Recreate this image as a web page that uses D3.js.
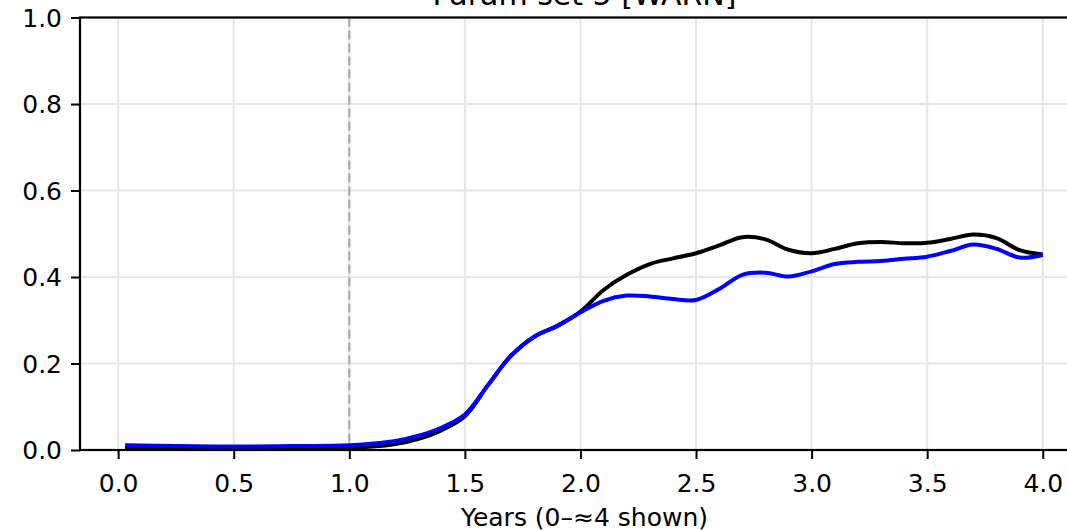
<!DOCTYPE html>
<html>
<head>
<meta charset="utf-8">
<script src="https://cdn.jsdelivr.net/npm/d3@7"></script>
<style>
  html, body { margin: 0; padding: 0; background: #fff; }
  svg { display: block; }
  text { font-family: "DejaVu Sans", sans-serif; }
</style>
</head>
<body>
<svg id="chart" width="1067" height="531"></svg>
<script>
const titleText = "Param set 5 [WARN]";
const xLabelText = "Years (0\u2013\u22484 shown)";
const years = [0.03, 0.25, 0.5, 0.75, 1.0, 1.1, 1.2, 1.3, 1.4, 1.5, 1.6, 1.7, 1.8, 1.9, 2.0, 2.1, 2.2, 2.3, 2.4, 2.5, 2.6, 2.7, 2.8, 2.9, 3.0, 3.1, 3.2, 3.3, 3.4, 3.5, 3.6, 3.7, 3.8, 3.9, 4.0];
const blackSeries = [0.004, 0.003, 0.003, 0.004, 0.006, 0.008, 0.014, 0.026, 0.046, 0.078, 0.15, 0.218, 0.262, 0.287, 0.32, 0.37, 0.405, 0.43, 0.443, 0.455, 0.473, 0.492, 0.487, 0.463, 0.455, 0.465, 0.478, 0.481, 0.478, 0.479, 0.488, 0.498, 0.49, 0.462, 0.452];
const blueSeries = [0.011, 0.009, 0.008, 0.009, 0.011, 0.015, 0.021, 0.033, 0.052, 0.082, 0.15, 0.218, 0.262, 0.287, 0.318, 0.345, 0.357, 0.355, 0.349, 0.347, 0.372, 0.405, 0.41, 0.401, 0.413, 0.43, 0.435, 0.437, 0.442, 0.447, 0.46, 0.475, 0.465, 0.445, 0.451];
const xTicks = [0.0, 0.5, 1.0, 1.5, 2.0, 2.5, 3.0, 3.5, 4.0];
const yTicks = [0.0, 0.2, 0.4, 0.6, 0.8, 1.0];
const markerYear = 1.0;

const svg = d3.select("#chart");
const pLeft = 80, pTop = 17.5, pBottom = 450, pRight = 1089;
const x = d3.scaleLinear().domain([-0.165, 4.2]).range([pLeft, pRight]);
const y = d3.scaleLinear().domain([0, 1]).range([pBottom, pTop]);

// grid
const grid = svg.append("g");
grid.selectAll("line.gx").data(xTicks).join("line")
  .attr("x1", d => x(d)).attr("x2", d => x(d)).attr("y1", pTop).attr("y2", pBottom)
  .attr("stroke", "#e6e6e6").attr("stroke-width", 2);
grid.selectAll("line.gy").data(yTicks).join("line")
  .attr("x1", pLeft).attr("x2", pRight).attr("y1", d => y(d)).attr("y2", d => y(d))
  .attr("stroke", "#e6e6e6").attr("stroke-width", 2);

// vertical dashed marker
svg.append("line")
  .attr("x1", x(markerYear)).attr("x2", x(markerYear)).attr("y1", pTop).attr("y2", pBottom)
  .attr("stroke", "#aaaaaa").attr("stroke-width", 2.2).attr("stroke-dasharray", "9,4");

const line = (vals) => d3.line().x((d, i) => x(years[i])).y(d => y(d)).curve(d3.curveCatmullRom.alpha(0.5))(vals);

svg.append("path").attr("d", line(blackSeries)).attr("fill", "none")
  .attr("stroke", "#000").attr("stroke-width", 4).attr("stroke-linejoin", "round");
svg.append("path").attr("d", line(blueSeries)).attr("fill", "none")
  .attr("stroke", "#0000ff").attr("stroke-width", 4).attr("stroke-linejoin", "round");

// axes
const xAxis = d3.axisBottom(x).tickValues(xTicks).tickFormat(d3.format(".1f")).tickSize(9).tickPadding(9);
const yAxis = d3.axisLeft(y).tickValues(yTicks).tickFormat(d3.format(".1f")).tickSize(9).tickPadding(9);
const gx = svg.append("g").attr("transform", `translate(0,${pBottom})`).call(xAxis);
const gy = svg.append("g").attr("transform", `translate(${pLeft},0)`).call(yAxis);
[gx, gy].forEach(g => {
  g.select(".domain").remove();
  g.selectAll(".tick line").attr("stroke", "#000").attr("stroke-width", 2);
  g.selectAll(".tick text").attr("fill", "#000").style("font-size", "25px").style("font-family", "DejaVu Sans");
});
gx.selectAll(".tick text").attr("dy", "0.95em");
gy.selectAll(".tick text").attr("dy", "0.35em");

// spines
svg.append("rect").attr("x", pLeft).attr("y", pTop).attr("width", pRight - pLeft).attr("height", pBottom - pTop)
  .attr("fill", "none").attr("stroke", "#000").attr("stroke-width", 2.2);

// title & label
svg.append("text").attr("x", (pLeft + pRight) / 2).attr("y", 5).attr("text-anchor", "middle")
  .style("font-size", "30px").attr("fill", "#000").text(titleText);
svg.append("text").attr("x", (pLeft + pRight) / 2).attr("y", 526).attr("text-anchor", "middle")
  .style("font-size", "25px").attr("fill", "#000").text(xLabelText);
</script>
</body>
</html>
